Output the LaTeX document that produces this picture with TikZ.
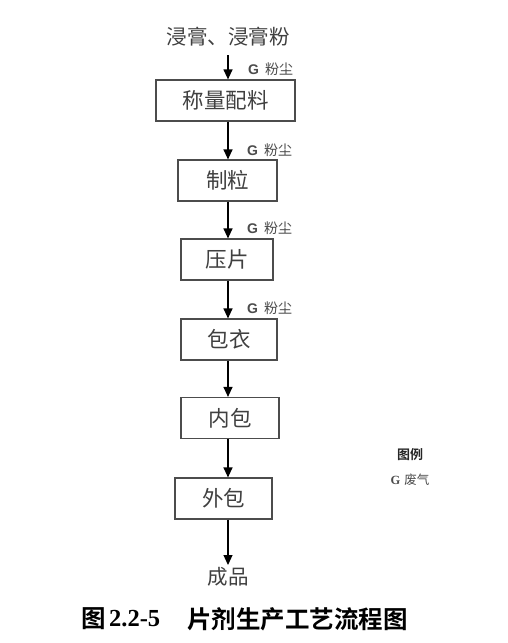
\documentclass[tikz,border=0pt]{standalone}
\usepackage{fontspec}
\setmainfont{Liberation Serif}
\newfontfamily\cjk{Noto Sans CJK SC}
\newfontfamily\cjkb{Noto Sans CJK SC Bold}
\newfontfamily\arialb{Liberation Sans Bold}
\usetikzlibrary{arrows.meta}
\begin{document}
\begin{tikzpicture}[x=1pt,y=-1pt,
  procbox/.style={draw=black!70,line width=1.2pt,minimum height=41pt,inner sep=0pt,text=black!75,font=\cjk\fontsize{21.5}{21.5}\selectfont},
  flow/.style={-{Triangle[length=10pt,width=9pt]},line width=1.2pt,black},
  glabel/.style={anchor=west,inner sep=0pt,font=\fontsize{14}{14}\selectfont,text=black!70},
  plain/.style={inner sep=0pt,text=black!75,font=\cjk\fontsize{20.5}{20.5}\selectfont},
  capt/.style={inner sep=0pt,anchor=west,font=\fontsize{24.5}{24.5}\selectfont}]
\useasboundingbox[fill=white] (0,0) rectangle (508,643);
\node[plain] (in) at (228,37) {浸膏、浸膏粉};
\node[procbox,minimum width=139pt] (b1) at (225.5,100.5) {称量配料};
\node[procbox,minimum width=99pt] (b2) at (227.5,180.5) {制粒};
\node[procbox,minimum width=92pt] (b3) at (227,259.5) {压片};
\node[procbox,minimum width=96pt] (b4) at (229,339.5) {包衣};
\node[procbox,minimum width=98pt] (b5) at (230,418) {内包};
\node[procbox,minimum width=97pt] (b6) at (223.5,498.5) {外包};
\node[plain] (out) at (228,577) {成品};
\coordinate (a0) at (228,55);
\draw[flow] (a0) -- (a0 |- b1.north);
\draw[flow] (b1.south -| a0) -- (b2.north -| a0);
\draw[flow] (b2.south -| a0) -- (b3.north -| a0);
\draw[flow] (b3.south -| a0) -- (b4.north -| a0);
\draw[flow] (b4.south -| a0) -- (b5.north -| a0);
\draw[flow] (b5.south -| a0) -- (b6.north -| a0);
\draw[flow] (b6.south -| a0) -- (228,565);
\node[glabel] (g1) at (248,69) {{\arialb G}\hspace{6pt}{\cjk 粉尘}};
\node[glabel] (g2) at (247,150) {{\arialb G}\hspace{6pt}{\cjk 粉尘}};
\node[glabel] (g3) at (247,228) {{\arialb G}\hspace{6pt}{\cjk 粉尘}};
\node[glabel] (g4) at (247,308) {{\arialb G}\hspace{6pt}{\cjk 粉尘}};
\node[inner sep=0pt,font=\cjkb\fontsize{13}{13}\selectfont,text=black!85] (lg) at (410,455) {图例};
\node[inner sep=0pt,font=\fontsize{12.5}{12.5}\selectfont,text=black!70] (lg2) at (410,480) {\textbf{G}\hspace{4pt}{\cjk 废气}};
\node[capt] (cap1) at (81,619) {\cjkb 图};
\node[capt] (cap2) at (109,619) {\textbf{2.2-5}};
\node[capt] (cap3) at (187,619) {\cjkb 片剂生产工艺流程图};
\end{tikzpicture}
\end{document}
